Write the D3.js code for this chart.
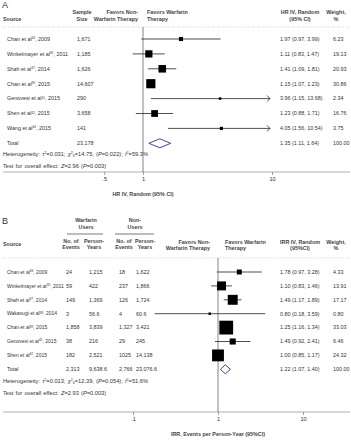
<!DOCTYPE html>
<html>
<head>
<meta charset="utf-8">
<script src="https://cdn.jsdelivr.net/npm/d3@7"></script>
<style>
body { margin: 0; background: #fff; }
svg text { font-family: "Liberation Sans", Arial, sans-serif; fill: #333; font-size: 5.4px; }
.hdr { font-weight: bold; fill: #444; }
.stat { font-size: 5.7px; word-spacing: 0.6px; }
.studyB { font-size: 5px; }
</style>
</head>
<body>
<div id="chart"></div>
<script>
// ---- panel A data (HR) ----
var studiesA = ["Chan et al", "Winkelmayer et al", "Shah et al", "Chan et al", "Genovesi et al", "Shen et al", "Wang et al"];
var refsA = ["34", "35", "37", "39", "41", "42", "44"];
var yearsA = ["2009", "2011", "2014", "2015", "2015", "2015", "2015"];
var sampleA = ["1,671", "1,185", "1,626", "14,607", "290", "3,658", "141"];
var hrA = [1.97, 1.11, 1.41, 1.15, 3.96, 1.23, 4.05];
var lowA = [0.97, 0.83, 1.09, 1.07, 1.15, 0.88, 1.56];
var highA = [3.99, 1.47, 1.81, 1.23, 13.68, 1.71, 10.54];
var weightA = [6.23, 19.13, 20.93, 30.86, 2.34, 16.76, 3.75];
var totalA = [1.35, 1.11, 1.64];
var totalSampleA = "23,178";
var ticksA = [0.5, 1, 10];

// ---- panel B data (IRR) ----
var studiesB = ["Chan et al", "Winkelmayer et al", "Shah et al", "Wakasugi et al", "Chan et al", "Genovesi et al", "Shen et al"];
var refsB = ["34", "35", "37", "38", "39", "41", "42"];
var yearsB = ["2009", "2011", "2014", "2014", "2015", "2015", "2015"];
var eventsW = ["24", "59", "149", "3", "1,858", "38", "182"];
var pyW = ["1,215", "422", "1,369", "56.6", "3,839", "216", "2,521"];
var eventsN = ["18", "237", "126", "4", "1,327", "29", "1025"];
var pyN = ["1,622", "1,866", "1,724", "60.6", "3,421", "245", "14,138"];
var irrB = [1.78, 1.10, 1.49, 0.80, 1.25, 1.49, 1.00];
var lowB = [0.97, 0.83, 1.17, 0.18, 1.16, 0.92, 0.85];
var highB = [3.28, 1.46, 1.89, 3.59, 1.34, 2.41, 1.17];
var weightB = [4.33, 13.91, 17.17, 0.80, 33.03, 6.46, 24.32];
var totalB = [1.22, 1.07, 1.40];
var totalRowB = ["2,313", "9,638.6", "2,766", "23,076.6"];
var ticksB = [0.1, 1, 10];

var width = 351, height = 440;
var f2 = d3.format(".2f");

const svg = d3.select("#chart")
  .append("svg")
  .attr("width", width)
  .attr("height", height);

function txt(x, y, s, anchor, cls) {
  return svg.append("text")
    .attr("x", x).attr("y", y).attr("dy", "0.35em")
    .attr("text-anchor", anchor || "start")
    .attr("class", cls || null)
    .text(s);
}

// study name with superscript ref
function studyLabel(x, y, name, ref, year, cls) {
  var t = svg.append("text").attr("x", x).attr("y", y).attr("dy", "0.35em").attr("class", cls || null);
  t.append("tspan").text(name);
  t.append("tspan").attr("dy", "-1.8").style("font-size", "3.2px").text(ref);
  t.append("tspan").attr("dy", "1.8").text(", " + year);
}

function statLine(x, y, parts) {
  var t = svg.append("text").attr("class", "stat").attr("x", x).attr("y", y).attr("dy", "0.35em");
  parts.forEach(function(p) {
    var s = t.append("tspan").text(p[0]);
    if (p[1] == "i") s.style("font-style", "italic");
    if (p[1] == "sup") s.attr("dy", "-2").style("font-size", "3.6px");
    if (p[1] == "sub") s.attr("dy", "3").style("font-size", "3.6px");
    if (p[1] == "base") s.attr("dy", p[2]);
  });
}

function forest(x, yRow, est, lo, hi, wt, k, xmax) {
  var rows = d3.range(est.length);
  // CI lines
  svg.append("g").selectAll("line")
    .data(rows).join("line")
    .attr("x1", i => x(lo[i]))
    .attr("x2", i => hi[i] > xmax ? x(xmax) - 2 : x(hi[i]))
    .attr("y1", i => yRow(i)).attr("y2", i => yRow(i))
    .attr("stroke", "#222").attr("stroke-width", 0.8);
  // arrows for CIs beyond the axis
  svg.append("g").selectAll("path")
    .data(rows.filter(i => hi[i] > xmax)).join("path")
    .attr("d", i => { var ax = x(xmax) - 2, ay = yRow(i);
      return "M" + (ax - 3) + "," + (ay - 3) + "L" + ax + "," + ay + "L" + (ax - 3) + "," + (ay + 3); })
    .attr("fill", "none").attr("stroke", "#222").attr("stroke-width", 0.8);
  // weight boxes
  svg.append("g").selectAll("rect")
    .data(rows).join("rect")
    .attr("x", i => x(est[i]) - Math.max(k * Math.sqrt(wt[i]), 2.5) / 2)
    .attr("y", i => yRow(i) - Math.max(k * Math.sqrt(wt[i]), 2.5) / 2)
    .attr("width", i => Math.max(k * Math.sqrt(wt[i]), 2.5))
    .attr("height", i => Math.max(k * Math.sqrt(wt[i]), 2.5))
    .attr("fill", "#000");
}

function diamond(x, y, tot, h) {
  svg.append("path")
    .attr("d", "M" + x(tot[1]) + "," + y + "L" + x(tot[0]) + "," + (y - h) + "L" + x(tot[2]) + "," + y + "L" + x(tot[0]) + "," + (y + h) + "Z")
    .attr("fill", "#fff").attr("stroke", "#2e3192").attr("stroke-width", 0.9);
}

function axis(x, yAx, ticks, label, yTop) {
  svg.append("line").attr("x1", 3).attr("x2", 350).attr("y1", yAx).attr("y2", yAx)
    .attr("stroke", "#999").attr("stroke-width", 0.8);
  svg.append("line").attr("x1", x(1)).attr("x2", x(1)).attr("y1", yTop).attr("y2", yAx)
    .attr("stroke", "#666").attr("stroke-width", 0.8);
  var ax = svg.append("g").attr("transform", "translate(0," + yAx + ")")
    .call(d3.axisBottom(x).tickValues(ticks).tickSize(3).tickPadding(2)
      .tickFormat(d => d < 1 ? String(d).replace("0.", ".") : d));
  ax.select(".domain").remove();
  ax.selectAll("line").attr("stroke", "#666").attr("stroke-width", 0.6);
  ax.selectAll("text").style("font-size", "5.6px").attr("fill", "#333");
  txt(x(1), yAx + 22, label, "middle", "hdr");
}

function dotted(y) {
  svg.append("line").attr("x1", 3).attr("x2", 350).attr("y1", y).attr("y2", y)
    .attr("stroke", "#bbb").attr("stroke-width", 0.7).attr("stroke-dasharray", "1,1.5");
}

// ================= Panel A =================
var xA = d3.scaleLog().domain([1, 10]).range([143, 272]);
var yA = d3.scaleLinear().domain([0, 1]).range([39, 53.9]);

svg.append("text").attr("x", 2).attr("y", 8).style("font-size", "9px").text("A");
txt(3, 19, "Source", "start", "hdr");
txt(82, 12, "Sample", "middle", "hdr");
txt(82, 19, "Size", "middle", "hdr");
txt(138, 12, "Favors Non-", "end", "hdr");
txt(138, 19, "Warfarin Therapy", "end", "hdr");
txt(147, 12, "Favors Warfarin", "start", "hdr");
txt(147, 19, "Therapy", "start", "hdr");
txt(300, 12, "HR IV, Random", "middle", "hdr");
txt(300, 19, "(95% CI)", "middle", "hdr");
txt(336, 12, "Weight,", "middle", "hdr");
txt(336, 19, "%", "middle", "hdr");
dotted(27);

studiesA.forEach(function(s, i) {
  studyLabel(7, yA(i), s, refsA[i], yearsA[i]);
  txt(77, yA(i), sampleA[i]);
  txt(280, yA(i), f2(hrA[i]) + " (" + f2(lowA[i]) + ", " + f2(highA[i]) + ")");
  txt(333, yA(i), f2(weightA[i]));
});
txt(7, yA(7), "Total");
txt(77, yA(7), totalSampleA);
txt(280, yA(7), f2(totalA[0]) + " (" + f2(totalA[1]) + ", " + f2(totalA[2]) + ")");
txt(333, yA(7), "100.00");
statLine(3, 154, [["Heterogeneity: "], ["τ", "i"], ["2", "sup"], ["=0.031; ", "base", 2], ["χ", "i"], ["2", "sup"], ["6", "sub"], ["=14.75, (", "base", -1], ["P", "i"], ["=0.022); "], ["I", "i"], ["2", "sup"], ["=59.3%", "base", 2]]);
statLine(3, 166, [["Test for overall effect: "], ["Z", "i"], ["=2.96 ("], ["P", "i"], ["=0.003)"]]);

axis(xA, 172, ticksA, "HR IV, Random (95% CI)", 27);
forest(xA, yA, hrA, lowA, highA, weightA, 1.65, 10);
diamond(xA, yA(7), totalA, 4.5);

// ================= Panel B =================
var xB = d3.scaleLog().domain([1, 10]).range([218, 303]);
var yB = d3.scaleLinear().domain([0, 1]).range([272, 285.9]);

svg.append("text").attr("x", 2).attr("y", 224).style("font-size", "9px").text("B");
txt(86, 220, "Warfarin", "middle", "hdr");
txt(86, 227, "Users", "middle", "hdr");
txt(135, 220, "Non-", "middle", "hdr");
txt(135, 227, "Users", "middle", "hdr");
svg.append("line").attr("x1", 67).attr("x2", 103).attr("y1", 234).attr("y2", 234).attr("stroke", "#555").attr("stroke-width", 0.8);
svg.append("line").attr("x1", 115).attr("x2", 154).attr("y1", 234).attr("y2", 234).attr("stroke", "#555").attr("stroke-width", 0.8);
txt(3, 244, "Source", "start", "hdr");
txt(71, 241, "No. of", "middle", "hdr");
txt(71, 247, "Events", "middle", "hdr");
txt(94, 241, "Person-", "middle", "hdr");
txt(94, 247, "Years", "middle", "hdr");
txt(124, 241, "No. of", "middle", "hdr");
txt(124, 247, "Events", "middle", "hdr");
txt(145, 241, "Person-", "middle", "hdr");
txt(145, 247, "Years", "middle", "hdr");
txt(210, 242, "Favors Non-", "end", "hdr");
txt(210, 248, "Warfarin Therapy", "end", "hdr");
txt(225, 242, "Favors Warfarin", "start", "hdr");
txt(225, 248, "Therapy", "start", "hdr");
txt(300, 242, "IRR IV, Random", "middle", "hdr");
txt(300, 248, "(95%CI)", "middle", "hdr");
txt(336, 242, "Weight,", "middle", "hdr");
txt(336, 248, "%", "middle", "hdr");
dotted(258);

studiesB.forEach(function(s, i) {
  studyLabel(7, yB(i), s, refsB[i], yearsB[i], "studyB");
  txt(66, yB(i), eventsW[i]);
  txt(89, yB(i), pyW[i]);
  txt(119, yB(i), eventsN[i]);
  txt(136, yB(i), pyN[i]);
  txt(280, yB(i), f2(irrB[i]) + " (" + f2(lowB[i]) + ", " + f2(highB[i]) + ")");
  txt(333, yB(i), f2(weightB[i]));
});
txt(7, yB(7), "Total");
[66, 89, 119, 136].forEach(function(cx, j) { txt(cx, yB(7), totalRowB[j]); });
txt(280, yB(7), f2(totalB[0]) + " (" + f2(totalB[1]) + ", " + f2(totalB[2]) + ")");
txt(333, yB(7), "100.00");
statLine(3, 381, [["Heterogeneity: "], ["τ", "i"], ["2", "sup"], ["=0.013; ", "base", 2], ["χ", "i"], ["2", "sup"], ["6", "sub"], ["=12.39, (", "base", -1], ["P", "i"], ["=0.054); "], ["I", "i"], ["2", "sup"], ["=51.6%", "base", 2]]);
statLine(3, 393, [["Test for overall effect: "], ["Z", "i"], ["=2.93 ("], ["P", "i"], ["=0.003)"]]);

axis(xB, 412, ticksB, "IRR, Events per Person-Year (95%CI)", 258);
forest(xB, yB, irrB, lowB, highB, weightB, 2.4, 10);
diamond(xB, yB(7), totalB, 4.5);
</script>
</body>
</html>
